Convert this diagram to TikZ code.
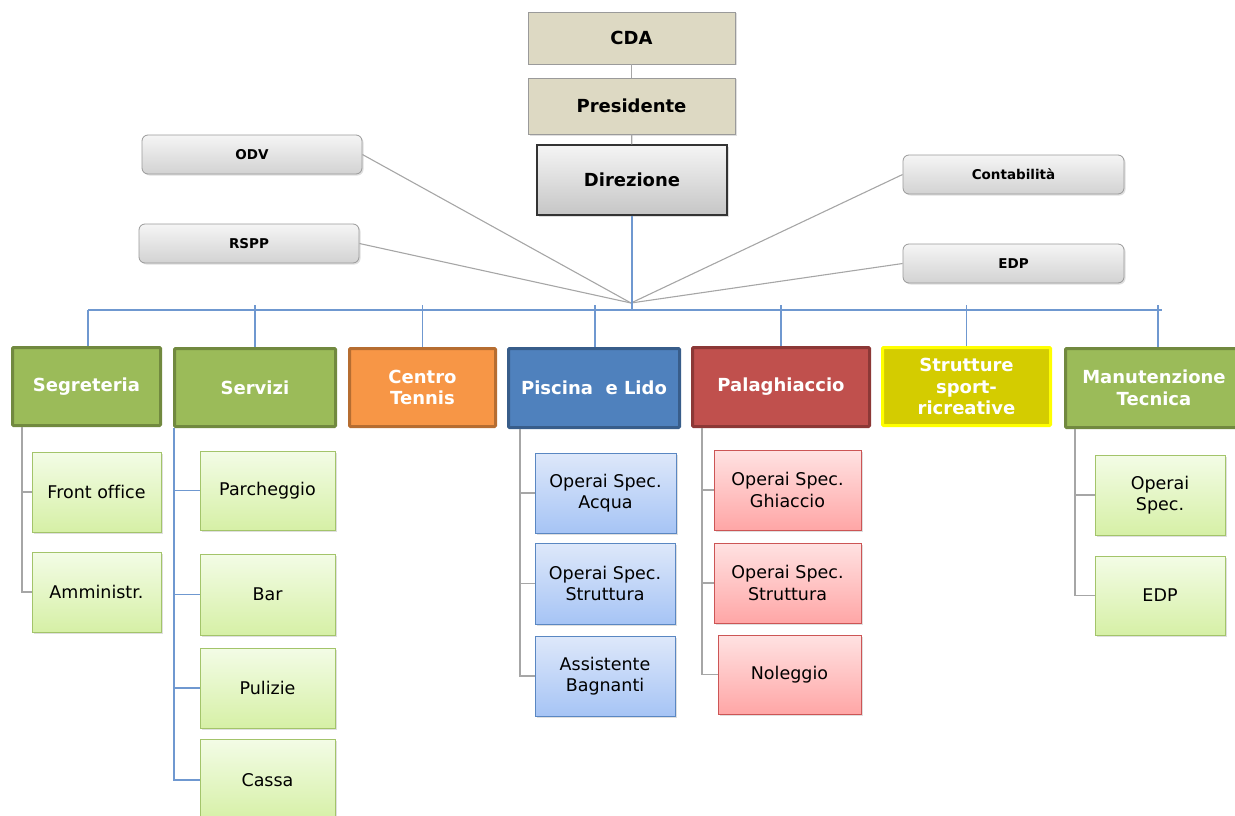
\documentclass[tikz,border=0pt]{standalone}
\usepackage{fontspec}
\setmainfont{DejaVu Sans}[Ligatures=NoCommon]
\usetikzlibrary{shadows}
\definecolor{tan}{HTML}{DDD9C3}
\definecolor{tanbd}{HTML}{9A9A9A}
\definecolor{gline}{HTML}{A6A6A6}
\definecolor{bline}{HTML}{6F98D0}
\definecolor{grn}{HTML}{9BBB59}
\definecolor{grnbd}{HTML}{71893F}
\definecolor{org}{HTML}{F79646}
\definecolor{orgbd}{HTML}{B66D31}
\definecolor{blu}{HTML}{4F81BD}
\definecolor{blubd}{HTML}{385D8A}
\definecolor{rd}{HTML}{C0504D}
\definecolor{rdbd}{HTML}{8C3836}
\definecolor{ylw}{HTML}{D4CC00}
\definecolor{ylwbd}{HTML}{FFFF00}
\definecolor{lgtop}{HTML}{F3FCE6}
\definecolor{lgbot}{HTML}{D6F0A6}
\definecolor{lgbd}{HTML}{A3C46A}
\definecolor{lbtop}{HTML}{DEE8FA}
\definecolor{lbbot}{HTML}{A6C4F5}
\definecolor{lbbd}{HTML}{5A87C2}
\definecolor{lrtop}{HTML}{FFE2E2}
\definecolor{lrbot}{HTML}{FFA6A6}
\definecolor{lrbd}{HTML}{CC5555}
\tikzset{
  shad/.style={drop shadow={opacity=0.25,shadow xshift=1.5pt,shadow yshift=-1.5pt}},
  topbox/.style={draw=tanbd,line width=0.8pt,fill=tan,inner sep=0pt,shad,
    font=\fontsize{18}{21}\selectfont\bfseries},
  dirbox/.style={draw=black!80,line width=1.2pt,top color=gray!8,bottom color=gray!45,inner sep=0pt,shad,
    font=\fontsize{18}{21}\selectfont\bfseries},
  sidebox/.style={draw=tanbd,line width=0.8pt,rounded corners=6pt,top color=gray!8,bottom color=gray!35,
    inner sep=0pt,shad,minimum width=220pt,minimum height=39pt,font=\fontsize{13.5}{15}\selectfont\bfseries},
  lvbox/.style={line width=3pt,inner sep=0pt,text=white,align=center,rounded corners=1pt,
    font=\fontsize{18}{21.5}\selectfont\bfseries},
  lvgreen/.style={lvbox,draw=grnbd,fill=grn},
  lvorange/.style={lvbox,draw=orgbd,fill=org},
  lvblue/.style={lvbox,draw=blubd,fill=blu},
  lvred/.style={lvbox,draw=rdbd,fill=rd},
  lvyellow/.style={lvbox,draw=ylwbd,fill=ylw},
  subbox/.style={line width=1pt,inner sep=0pt,align=center,shad,
    font=\fontsize{17.5}{21.5}\selectfont},
  subgreen/.style={subbox,draw=lgbd,top color=lgtop,bottom color=lgbot},
  subblue/.style={subbox,draw=lbbd,top color=lbtop,bottom color=lbbot},
  subred/.style={subbox,draw=lrbd,top color=lrtop,bottom color=lrbot},
  gcon/.style={draw=gline,line width=1.1pt},
  bcon/.style={draw=bline,line width=1.3pt},
}
\begin{document}
\begin{tikzpicture}[x=1pt,y=-1pt]
\useasboundingbox (0,0) rectangle (1235,816);
% top chain
\node[topbox,minimum width=207pt,minimum height=52pt] (cda) at (631.5,38) {CDA};
\node[topbox,minimum width=207pt,minimum height=56pt] (pres) at (631.5,106) {Presidente};
\node[dirbox,minimum width=190pt,minimum height=70pt] (dir) at (632,180) {Direzione};
% side staff
\node[sidebox] (odv) at (252,154.5) {ODV};
\node[sidebox] (rspp) at (249,243.5) {RSPP};
\node[sidebox,minimum width=221pt] (cont) at (1013.5,174.5) {Contabilità};
\node[sidebox,minimum width=221pt] (edp) at (1013.5,263.5) {EDP};
% level 2
\node[lvgreen,minimum width=148pt,minimum height=78pt] (seg) at (86.5,386.5) {Segreteria};
\node[lvgreen,minimum width=161pt,minimum height=78pt] (ser) at (255,387.5) {Servizi};
\node[lvorange,minimum width=146pt,minimum height=78pt] (ten) at (422.5,387.5) {Centro\\Tennis};
\node[lvblue,minimum width=171pt,minimum height=79pt] (pis) at (594,388) {Piscina\ \ e Lido};
\node[lvred,minimum width=177pt,minimum height=79pt] (pal) at (781,387) {Palaghiaccio};
\node[lvyellow,minimum width=168pt,minimum height=78pt] (str) at (966.5,386.5) {Strutture\\sport-\\ricreative};
\node[lvgreen,minimum width=177pt,minimum height=79pt] (man) at (1154,388) {Manutenzione\\Tecnica};
% children
\node[subgreen,minimum width=129pt,minimum height=80pt] (fo) at (96.5,492) {Front office};
\node[subgreen,minimum width=129pt,minimum height=80pt] (am) at (96.5,592) {Amministr.};
\node[subgreen,minimum width=135pt,minimum height=79pt] (par) at (267.5,490.5) {Parcheggio};
\node[subgreen,minimum width=135pt,minimum height=81pt] (bar) at (267.5,594.5) {Bar};
\node[subgreen,minimum width=135pt,minimum height=80pt] (pul) at (267.5,688) {Pulizie};
\node[subgreen,minimum width=135pt,minimum height=82pt] (cas) at (267.5,780) {Cassa};
\node[subblue,minimum width=141pt,minimum height=80pt] (pa) at (605.5,493) {Operai Spec.\\Acqua};
\node[subblue,minimum width=140pt,minimum height=81pt] (ps) at (605,583.5) {Operai Spec.\\Struttura};
\node[subblue,minimum width=140pt,minimum height=80pt] (pb) at (605,676) {Assistente\\Bagnanti};
\node[subred,minimum width=147pt,minimum height=80pt] (gg) at (787.5,490) {Operai Spec.\\Ghiaccio};
\node[subred,minimum width=147pt,minimum height=80pt] (gs) at (787.5,583) {Operai Spec.\\Struttura};
\node[subred,minimum width=143pt,minimum height=79pt] (gn) at (789.5,674.5) {Noleggio};
\node[subgreen,minimum width=130pt,minimum height=80pt] (mo) at (1160,495) {Operai\\Spec.};
\node[subgreen,minimum width=130pt,minimum height=79pt] (me) at (1160,595.5) {EDP};
% connectors top
\draw[gcon] (cda) -- (pres);
\draw[gcon] (pres) -- (dir);
\coordinate (hub) at (631,303);
\coordinate (busL) at (88,310);
\coordinate (busR) at (1162,310);
\coordinate (tick) at (0,305);
\draw[gcon] (odv.east) -- (hub);
\draw[gcon] (rspp.east) -- (hub);
\draw[gcon] (cont.west) -- (hub);
\draw[gcon] (edp.west) -- (hub);
\draw[bcon] (dir.south) -- (dir.south |- busL);
\draw[bcon] (busL) -- (busR);
\draw[bcon] ([xshift=1.5pt]seg.north) -- ([xshift=1.5pt]seg.north |- busL);
\draw[bcon] (ser.north) -- (ser.north |- tick);
\draw[bcon] (ten.north) -- (ten.north |- tick);
\draw[bcon] ([xshift=1pt]pis.north) -- ([xshift=1pt]pis.north |- tick);
\draw[bcon] (pal.north) -- (pal.north |- tick);
\draw[bcon] (str.north) -- (str.north |- tick);
\draw[bcon] ([xshift=4pt]man.north) -- ([xshift=4pt]man.north |- tick);
% child connectors
\draw[gcon] ([xshift=11pt]seg.south west) |- (fo.west);
\draw[gcon] ([xshift=11pt]seg.south west) |- (am.west);
\draw[bcon] ([xshift=1pt]ser.south west) |- (par.west);
\draw[bcon] ([xshift=1pt]ser.south west) |- (bar.west);
\draw[bcon] ([xshift=1pt]ser.south west) |- (pul.west);
\draw[bcon] ([xshift=1pt]ser.south west) |- (cas.west);
\draw[gcon] ([xshift=13pt]pis.south west) |- (pa.west);
\draw[gcon] ([xshift=13pt]pis.south west) |- (ps.west);
\draw[gcon] ([xshift=13pt]pis.south west) |- (pb.west);
\draw[gcon] ([xshift=11pt]pal.south west) |- (gg.west);
\draw[gcon] ([xshift=11pt]pal.south west) |- (gs.west);
\draw[gcon] ([xshift=11pt]pal.south west) |- (gn.west);
\draw[gcon] ([xshift=11pt]man.south west) |- (mo.west);
\draw[gcon] ([xshift=11pt]man.south west) |- (me.west);
\end{tikzpicture}
\end{document}
